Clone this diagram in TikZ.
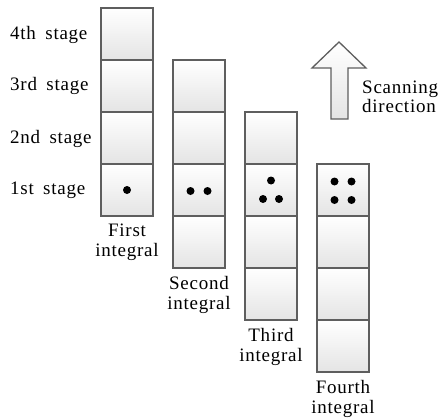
\documentclass[tikz,border=0pt]{standalone}
\usepackage{fontspec}
\setmainfont{Liberation Serif}[LetterSpace=4, WordSpace=1.7]
\usepackage{tikz}
\usetikzlibrary{positioning}

\definecolor{cellline}{HTML}{5E5E5E}
\definecolor{cellshade}{HTML}{E4E4E4}

\tikzset{
  cell/.style = {draw=cellline, line width=1.3pt, minimum width=52pt,
                 minimum height=52pt, inner sep=0pt,
                 top color=white, bottom color=cellshade},
  lbl/.style  = {font=\fontsize{19}{20.5}\selectfont, inner sep=0pt},
  dot/.style  = {fill=black},
}

\begin{document}
\begin{tikzpicture}[x=1pt, y=-1pt]
  \useasboundingbox (0,0) rectangle (438,417);

  % the four integrals, each one stage lower than the last
  \foreach \c in {1,...,4}
    \foreach \r in {1,...,4}
      \node[cell] (i\c-\r) at ({127+72*(\c-1)}, {34+52*(\c+\r-2)}) {};

  % stage names
  \node[lbl, anchor=base west] (s4) at (10,40) {4th stage};
  \node[lbl, anchor=base west] (s3) at (10,91) {3rd stage};
  \node[lbl, anchor=base west] (s2) at (10,143) {2nd stage};
  \node[lbl, anchor=base west] (s1) at (10,194) {1st stage};

  % integral names
  \node[lbl, align=center, below=7pt of i1-4] (n1) {First\\integral};
  \node[lbl, align=center, below=7pt of i2-4] (n2) {Second\\integral};
  \node[lbl, align=center, below=7pt of i3-4] (n3) {Third\\integral};
  \node[lbl, align=center, below=7pt of i4-4] (n4) {Fourth\\integral};

  % points in the 1st stage
  \fill[dot] (i1-4) circle (4pt);
  \fill[dot] ([shift={(-8.5,1)}]i2-3) circle (4pt);
  \fill[dot] ([shift={(8.5,1)}]i2-3) circle (4pt);
  \fill[dot] ([shift={(0,-9.5)}]i3-2) circle (4pt);
  \fill[dot] ([shift={(-8,9)}]i3-2) circle (4pt);
  \fill[dot] ([shift={(8,9)}]i3-2) circle (4pt);
  \fill[dot] ([shift={(-8.5,-8.5)}]i4-1) circle (4pt);
  \fill[dot] ([shift={(8.5,-8.5)}]i4-1) circle (4pt);
  \fill[dot] ([shift={(-8.5,10)}]i4-1) circle (4pt);
  \fill[dot] ([shift={(8.5,10)}]i4-1) circle (4pt);

  % scanning arrow
  \draw[draw=cellline, line width=1.3pt, line join=miter,
        top color=white, bottom color=cellshade]
    (339,42) -- (366,68) -- (348,68) -- (348,119) -- (331,119)
    -- (331,68) -- (312,68) -- cycle;
  \node[lbl, font=\fontsize{19}{16.5}\selectfont, align=left,
        anchor=north west] (scan) at (362,81) {Scanning\\direction};
\end{tikzpicture}
\end{document}
